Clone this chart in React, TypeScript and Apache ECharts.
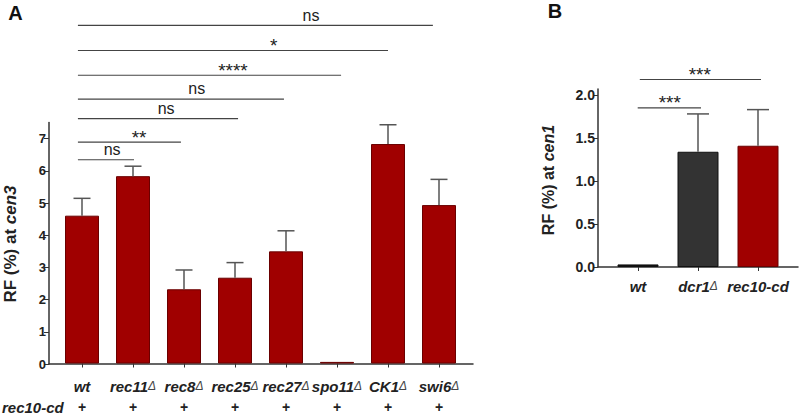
import React, { useEffect, useRef } from "react";
import * as echarts from "echarts";

// ---------- Panel A data ----------
const catsA = ["wt", "rec11", "rec8", "rec25", "rec27", "spo11", "CK1", "swi6"];
const deltaA = [false, true, true, true, true, true, true, true];
const valsA = [4.6, 5.83, 2.31, 2.67, 3.49, 0.05, 6.83, 4.93];
const errA = [0.54, 0.31, 0.6, 0.47, 0.64, 0, 0.6, 0.8];
const yTicksA = [0, 1, 2, 3, 4, 5, 6, 7];
// brackets: [start index, end index, y value, label position index]
const bracketsA = [
  [-0.08, 6.88, 10.52, 4.49],
  [-0.08, 6.0, 9.74, 3.76],
  [-0.08, 5.08, 8.97, 2.96],
  [-0.08, 3.96, 8.23, 2.25],
  [-0.08, 3.06, 7.62, 1.65],
  [-0.08, 1.94, 6.89, 1.12],
  [-0.08, 1.02, 6.34, 0.59],
];
const bracketLabelsA = ["ns", "*", "****", "ns", "ns", "**", "ns"];

// ---------- Panel B data ----------
const catsB = ["wt", "dcr1", "rec10-cd"];
const deltaB = [false, true, false];
const valsB = [0.03, 1.34, 1.41];
const errB = [0, 0.44, 0.42];
const colorsB = ["#111111", "#333333", "#a00000"];
const yTicksB = [0, 0.5, 1, 1.5, 2];
const bracketsB = [
  [0.03, 2.05, 2.18, 1.03],
  [-0.005, 1.05, 1.85, 0.53],
];
const bracketLabelsB = ["***", "***"];

const FONT = "'Liberation Sans', Arial, Helvetica, sans-serif";
const RED = "#a00000";
const AXIS = "#333333";

function errRender(half: number) {
  return (params: any, api: any) => {
    const i = api.value(0);
    const v = api.value(1);
    const e = api.value(2);
    if (!e) return null;
    const p0 = api.coord([i, v]);
    const p1 = api.coord([i, v + e]);
    const st = { stroke: "#555555", lineWidth: 1.5 };
    return {
      type: "group",
      children: [
        { type: "line", shape: { x1: p0[0], y1: p0[1], x2: p1[0], y2: p1[1] }, style: st },
        { type: "line", shape: { x1: p1[0] - half, y1: p1[1], x2: p1[0] + half, y2: p1[1] }, style: st },
      ],
    };
  };
}

function bracketRender(labels: string[], nsOff: number, starOff: number) {
  return (params: any, api: any) => {
    const s = api.value(0);
    const e = api.value(1);
    const y = api.value(2);
    const lp = api.value(3);
    const c0 = api.coord([0, y]);
    const c1 = api.coord([1, y]);
    const bw = c1[0] - c0[0];
    const X = (t: number) => c0[0] + t * bw;
    const lab = labels[params.dataIndex];
    const isNs = lab === "ns";
    return {
      type: "group",
      children: [
        {
          type: "line",
          shape: { x1: X(s), y1: c0[1], x2: X(e), y2: c0[1] },
          style: { stroke: "#444444", lineWidth: 1.2 },
        },
        {
          type: "text",
          style: {
            text: lab,
            x: X(lp),
            y: c0[1] - (isNs ? nsOff : starOff),
            align: "center",
            verticalAlign: "middle",
            fontSize: isNs ? 16 : 19,
            fontFamily: FONT,
            fill: "#222222",
          },
        },
      ],
    };
  };
}

const catLabel = (cats: string[], deltas: boolean[], plus: boolean) => (v: string) => {
  const i = cats.indexOf(v);
  const main = deltas[i] ? `{b|${v}}{d|Δ}` : `{b|${v}}`;
  return plus ? `${main}\n{p|+}` : main;
};

export default function App() {
  const ref = useRef<HTMLDivElement>(null);
  useEffect(() => {
    if (!ref.current) return;
    const chart = echarts.init(ref.current, null, { renderer: "svg" });
    const labelRich = (lh: number) => ({
      b: { fontFamily: FONT, fontWeight: "bold", fontStyle: "italic", fontSize: 15, color: "#222", lineHeight: lh },
      d: { fontFamily: FONT, fontStyle: "italic", fontSize: 12, color: "#444", lineHeight: lh },
      p: { fontFamily: FONT, fontWeight: "bold", fontSize: 14, color: "#222", lineHeight: lh },
    });
    const option: any = {
      animation: false,
      backgroundColor: "#ffffff",
      grid: [
        { left: 49, top: 122.5, width: 424, height: 241.5 },
        { left: 56.5, top: 122.5, width: 408, height: 241.5 },
        { left: 598, top: 89, width: 200, height: 178 },
        { left: 608, top: 89, width: 180, height: 178 },
      ],
      xAxis: [
        {
          gridIndex: 0, type: "value", min: 0, max: 1,
          axisLine: { show: true, lineStyle: { color: AXIS, width: 1.5 } },
          axisTick: { show: false }, axisLabel: { show: false }, splitLine: { show: false },
        },
        {
          gridIndex: 1, type: "category", data: catsA,
          axisLine: { show: false },
          axisTick: { show: true, alignWithLabel: true, length: 4, lineStyle: { color: AXIS, width: 1 } },
          axisLabel: {
            interval: 0, margin: 12, align: "center",
            formatter: catLabel(catsA, deltaA, true),
            rich: labelRich(21),
          },
          splitLine: { show: false },
        },
        {
          gridIndex: 2, type: "value", min: 0, max: 1,
          axisLine: { show: true, lineStyle: { color: AXIS, width: 1.5 } },
          axisTick: { show: false }, axisLabel: { show: false }, splitLine: { show: false },
        },
        {
          gridIndex: 3, type: "category", data: catsB,
          axisLine: { show: false },
          axisTick: { show: true, alignWithLabel: true, length: 4, lineStyle: { color: AXIS, width: 1 } },
          axisLabel: {
            interval: 0, margin: 11, align: "center",
            formatter: catLabel(catsB, deltaB, false),
            rich: labelRich(16),
          },
          splitLine: { show: false },
        },
      ],
      yAxis: [
        {
          gridIndex: 0, type: "value", min: 0, max: 7.5, interval: 1,
          axisLine: { show: true, lineStyle: { color: AXIS, width: 1.5 } },
          axisTick: { show: true, length: 5, customValues: yTicksA, lineStyle: { color: AXIS } },
          axisLabel: {
            customValues: yTicksA, margin: 3, fontFamily: FONT, fontWeight: "bold", fontSize: 13, color: "#222",
            formatter: (v: number) => (v === 7.5 ? "" : String(v)),
          },
          splitLine: { show: false },
        },
        { gridIndex: 1, type: "value", min: 0, max: 7.5, show: false },
        {
          gridIndex: 2, type: "value", min: 0, max: 178 / 86, interval: 0.5,
          axisLine: { show: true, lineStyle: { color: AXIS, width: 1.5 } },
          axisTick: { show: true, length: 5, customValues: yTicksB, lineStyle: { color: AXIS } },
          axisLabel: {
            customValues: yTicksB, margin: 3, fontFamily: FONT, fontWeight: "bold", fontSize: 14, color: "#222",
            formatter: (v: number) => (yTicksB.indexOf(v) >= 0 ? v.toFixed(1) : ""),
          },
          splitLine: { show: false },
        },
        { gridIndex: 3, type: "value", min: 0, max: 178 / 86, show: false },
      ],
      series: [
        {
          type: "bar", xAxisIndex: 1, yAxisIndex: 1, data: valsA, barWidth: 34,
          itemStyle: { color: RED, borderColor: "#6a0000", borderWidth: 1 },
        },
        {
          type: "custom", xAxisIndex: 1, yAxisIndex: 1, silent: true, z: 3,
          data: valsA.map((v, i) => [i, v, errA[i]]),
          encode: { x: 0, y: 1 },
          renderItem: errRender(8.5),
        },
        {
          type: "custom", xAxisIndex: 1, yAxisIndex: 1, silent: true, clip: false, z: 4,
          data: bracketsA,
          encode: { x: 0, y: 2 },
          renderItem: bracketRender(bracketLabelsA, 10.2, 4.6),
        },
        {
          type: "bar", xAxisIndex: 3, yAxisIndex: 3, barWidth: 41,
          data: valsB.map((v, i) => ({
            value: v,
            itemStyle: { color: colorsB[i], borderColor: i === 2 ? "#6a0000" : "#111111", borderWidth: 1 },
          })),
        },
        {
          type: "custom", xAxisIndex: 3, yAxisIndex: 3, silent: true, z: 3,
          data: valsB.map((v, i) => [i, v, errB[i]]),
          encode: { x: 0, y: 1 },
          renderItem: errRender(11),
        },
        {
          type: "custom", xAxisIndex: 3, yAxisIndex: 3, silent: true, clip: false, z: 4,
          data: bracketsB,
          encode: { x: 0, y: 2 },
          renderItem: bracketRender(bracketLabelsB, 10, 5.5),
        },
      ],
      graphic: [
        {
          type: "text", x: 15.5, y: 12.5,
          style: { text: "A", fontFamily: FONT, fontWeight: "bold", fontSize: 20, fill: "#111", align: "center", verticalAlign: "middle" },
        },
        {
          type: "text", x: 555, y: 11,
          style: { text: "B", fontFamily: FONT, fontWeight: "bold", fontSize: 20, fill: "#111", align: "center", verticalAlign: "middle" },
        },
        {
          type: "text", x: 10, y: 244, rotation: Math.PI / 2,
          style: {
            text: "{a|RF (%) at }{b|cen3}",
            fontFamily: FONT, fontWeight: "bold", fontSize: 17, fill: "#222",
            align: "center", verticalAlign: "middle",
            rich: {
              a: { fontFamily: FONT, fontWeight: "bold", fontSize: 17, fill: "#222" },
              b: { fontFamily: FONT, fontWeight: "bold", fontStyle: "italic", fontSize: 17, fill: "#222" },
            },
          },
        },
        {
          type: "text", x: 548.5, y: 180, rotation: Math.PI / 2,
          style: {
            text: "{a|RF (%) at }{b|cen1}",
            fontFamily: FONT, fontWeight: "bold", fontSize: 16, fill: "#222",
            align: "center", verticalAlign: "middle",
            rich: {
              a: { fontFamily: FONT, fontWeight: "bold", fontSize: 16, fill: "#222" },
              b: { fontFamily: FONT, fontWeight: "bold", fontStyle: "italic", fontSize: 16, fill: "#222" },
            },
          },
        },
        {
          type: "text", x: 2, y: 407,
          style: {
            text: "rec10-cd", fontFamily: FONT, fontWeight: "bold", fontStyle: "italic", fontSize: 15,
            fill: "#222", align: "left", verticalAlign: "middle",
          },
        },
      ],
    };
    chart.setOption(option);
    return () => chart.dispose();
  }, []);
  return (
    <div
      ref={ref}
      style={{ position: "fixed", left: 0, top: 0, width: 800, height: 414, background: "#fff" }}
    />
  );
}
